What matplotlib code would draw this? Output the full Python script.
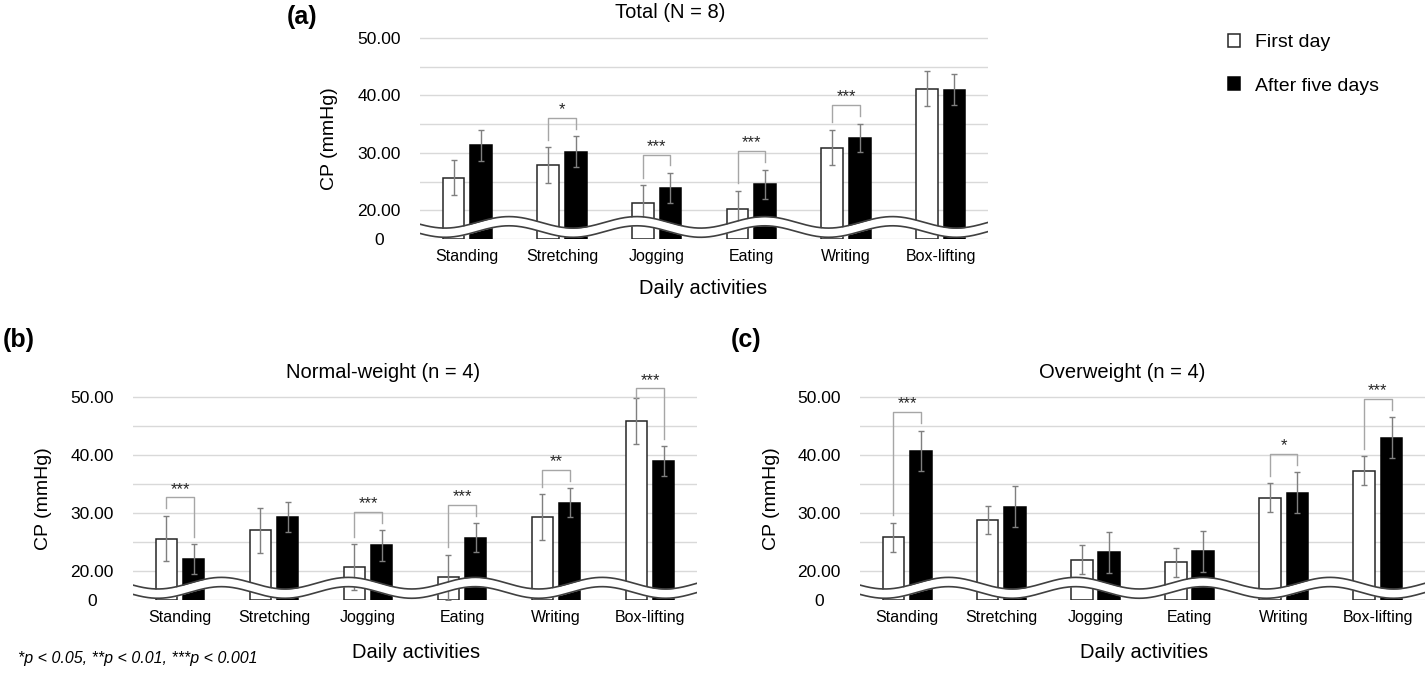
"""Contact pressure during daily activities: first day vs after five days."""

import matplotlib

matplotlib.use("Agg")
import matplotlib.pyplot as plt
import numpy as np

plt.rcParams["font.family"] = ["Liberation Sans", "DejaVu Sans"]

ACTIVITIES = ["Standing", "Stretching", "Jogging", "Eating", "Writing", "Box-lifting"]
SERIES = ["First day", "After five days"]

# (a) Total (N = 8)
TOTAL_FIRST = [25.7, 27.9, 21.3, 20.2, 30.9, 41.2]
TOTAL_FIRST_ERR = [3.1, 3.1, 3.1, 3.2, 3.1, 3.1]
TOTAL_AFTER = [31.3, 30.2, 23.9, 24.5, 32.6, 41.0]
TOTAL_AFTER_ERR = [2.7, 2.7, 2.6, 2.6, 2.5, 2.7]
TOTAL_SIG = ["", "*", "***", "***", "***", ""]

# (b) Normal-weight (n = 4)
NORMAL_FIRST = [25.6, 27.0, 20.7, 18.9, 29.3, 45.9]
NORMAL_FIRST_ERR = [3.9, 3.9, 3.9, 3.9, 3.9, 4.0]
NORMAL_AFTER = [22.0, 29.3, 24.4, 25.7, 31.8, 38.9]
NORMAL_AFTER_ERR = [2.6, 2.6, 2.6, 2.5, 2.5, 2.6]
NORMAL_SIG = ["***", "", "***", "***", "**", "***"]

# (c) Overweight (n = 4)
OVER_FIRST = [25.8, 28.8, 21.9, 21.5, 32.6, 37.3]
OVER_FIRST_ERR = [2.5, 2.4, 2.5, 2.5, 2.5, 2.5]
OVER_AFTER = [40.7, 31.1, 23.2, 23.4, 33.5, 43.0]
OVER_AFTER_ERR = [3.5, 3.5, 3.5, 3.5, 3.5, 3.5]
OVER_SIG = ["***", "", "", "", "*", "***"]

# broken y axis: real 0 is drawn at the break level
Y_TICK_VALUES = [0, 20, 30, 40, 50]
Y_TICK_LABELS = ["0", "20.00", "30.00", "40.00", "50.00"]
BREAK = 15
GRID_STEP = 5
Y_TOP = 52.5

W, H = 1428, 674
BAR_W = 0.23
OFF = 0.145
GREY = "#7f7f7f"


def px_box(left, right, top, bottom):
    return [left / W, 1 - bottom / H, (right - left) / W, (bottom - top) / H]


def fig_text(fig, x, y, s, **kw):
    kw.setdefault("ha", "center")
    kw.setdefault("va", "center")
    return fig.text(x / W, 1 - y / H, s, **kw)


def draw_panel(ax, first, first_err, after, after_err, sig):
    x = np.arange(len(ACTIVITIES))
    first = np.asarray(first)
    after = np.asarray(after)
    bars_first = ax.bar(x - OFF, first - BREAK, bottom=BREAK, width=BAR_W,
                        color="white", edgecolor="#262626", linewidth=1.1, zorder=2)
    bars_after = ax.bar(x + OFF, after - BREAK, bottom=BREAK, width=BAR_W,
                        color="black", edgecolor="black", linewidth=1.1, zorder=2)
    ax.errorbar(x - OFF, first, yerr=first_err, fmt="none", ecolor=GREY,
                elinewidth=1, capsize=2, capthick=1, zorder=3)
    ax.errorbar(x + OFF, after, yerr=after_err, fmt="none", ecolor=GREY,
                elinewidth=1, capsize=2, capthick=1, zorder=3)

    # significance brackets, kept under the top of the axes
    for i, s in enumerate(sig):
        if not s:
            continue
        lt = first[i] + first_err[i]
        rt = after[i] + after_err[i]
        top = min(max(lt, rt) + 3.2, Y_TOP - 1)
        legs = [min(v + 1.3, top - 1.6) for v in (lt, rt)]
        ax.plot([i - OFF, i - OFF, i + OFF, i + OFF], [legs[0], top, top, legs[1]],
                color="#a6a6a6", lw=1, zorder=4)
        ax.text(i, top + 0.1, s, ha="center", va="bottom", fontsize=12,
                color="#262626", zorder=4)

    # axis-break wave
    xs = np.linspace(-0.5, len(ACTIVITIES) - 0.5, 600)
    wave = 1.0 * np.cos(2 * np.pi * (xs - 0.44) / 1.35)
    ax.fill_between(xs, 16.3 + wave, 17.9 + wave, color="white", lw=0, zorder=5)
    ax.plot(xs, 17.9 + wave, color="#404040", lw=1.2, zorder=6)
    ax.plot(xs, 16.3 + wave, color="#404040", lw=1.2, zorder=6)

    ax.set_xlim(-0.5, len(ACTIVITIES) - 0.5)
    ax.set_ylim(BREAK, Y_TOP)
    ticks = [BREAK if v == 0 else v for v in Y_TICK_VALUES]
    ax.set_yticks(ticks)
    ax.set_yticklabels(Y_TICK_LABELS)
    ax.set_yticks(np.arange(BREAK, 50 + 1, GRID_STEP), minor=True)
    ax.yaxis.grid(True, which="both", color="#d9d9d9", lw=1)
    ax.set_axisbelow(True)
    ax.tick_params(axis="y", which="both", length=0, pad=29.5, labelsize=12.5)
    for t in ax.get_yticklabels():
        t.set_horizontalalignment("center")
    ax.set_xticks(x)
    ax.set_xticklabels(ACTIVITIES)
    ax.tick_params(axis="x", length=0, pad=7.5, labelsize=11.5)
    for sp in ax.spines.values():
        sp.set_visible(False)
    return bars_first, bars_after


def main():
    fig = plt.figure(figsize=(W / 100, H / 100), dpi=100)

    unit_a = (239 - 38) / (50 - BREAK)
    ax_a = fig.add_axes(px_box(420, 988, 38 - (Y_TOP - 50) * unit_a, 239))
    unit_b = (600 - 397) / (50 - BREAK)
    top_b = 397 - (Y_TOP - 50) * unit_b
    ax_b = fig.add_axes(px_box(133, 697, top_b, 600))
    ax_c = fig.add_axes(px_box(860, 1425, top_b, 600))

    handles = draw_panel(ax_a, TOTAL_FIRST, TOTAL_FIRST_ERR, TOTAL_AFTER, TOTAL_AFTER_ERR, TOTAL_SIG)
    draw_panel(ax_b, NORMAL_FIRST, NORMAL_FIRST_ERR, NORMAL_AFTER, NORMAL_AFTER_ERR, NORMAL_SIG)
    draw_panel(ax_c, OVER_FIRST, OVER_FIRST_ERR, OVER_AFTER, OVER_AFTER_ERR, OVER_SIG)

    # titles, panel letters and axis labels
    fig_text(fig, 670, 12, "Total (N = 8)", fontsize=14.5)
    fig_text(fig, 383, 372, "Normal-weight (n = 4)", fontsize=14.5)
    fig_text(fig, 1122, 372, "Overweight (n = 4)", fontsize=14.5)
    fig_text(fig, 302, 17, "(a)", fontsize=18, fontweight="bold")
    fig_text(fig, 19, 340, "(b)", fontsize=18, fontweight="bold")
    fig_text(fig, 746, 340, "(c)", fontsize=18, fontweight="bold")
    for x, y in [(330, 139), (43, 499), (771, 499)]:
        fig_text(fig, x, y, "CP (mmHg)", fontsize=14, rotation=90)
    for x, y in [(703, 289), (416, 652), (1144, 652)]:
        fig_text(fig, x, y, "Daily activities", fontsize=14.5)
    fig_text(fig, 18, 659, "*p < 0.05, **p < 0.01, ***p < 0.001", ha="left",
             fontsize=11.5, style="italic")

    fig.legend(handles, SERIES, loc="upper left",
               bbox_to_anchor=(1228 / W, 1 - 34 / H), frameon=False, fontsize=14,
               handlelength=0.62, handleheight=0.62, handletextpad=0.75,
               labelspacing=1.35, borderpad=0, borderaxespad=0)

    fig.savefig("out.png", dpi=100)
    plt.close(fig)


if __name__ == "__main__":
    main()
